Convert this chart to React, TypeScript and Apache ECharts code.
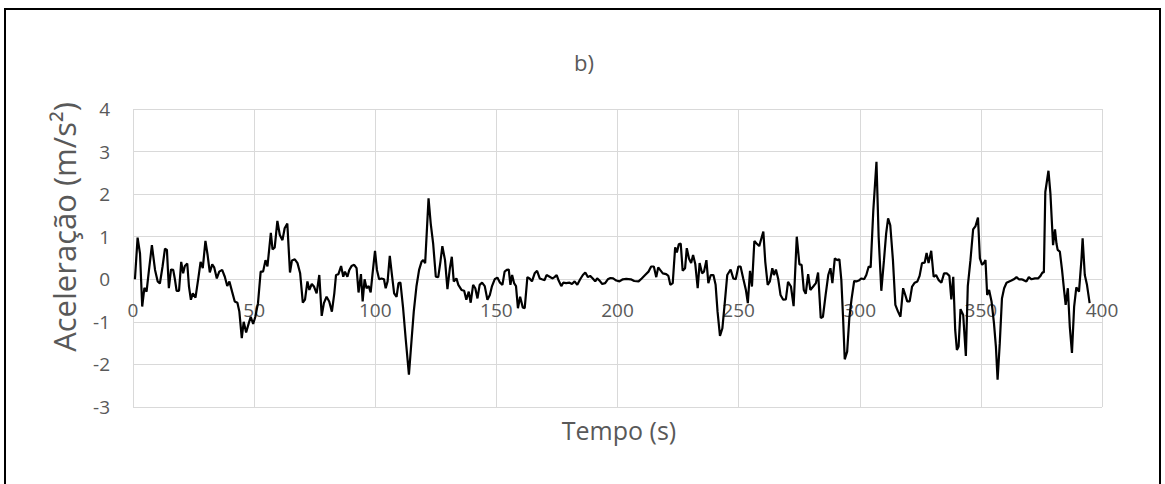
import React, { useEffect, useRef } from "react";
import * as echarts from "echarts";

const chartTitle = "b)";
const xTitle = "Tempo (s)";
const yTitle = "Aceleração (m/s²)";

const xMin = 0;
const xMax = 400;
const xStep = 50;
const yMin = -3;
const yMax = 4;
const yStep = 1;

// time (s)
const times: number[] = [
  0.8, 1.9, 2.9, 3.8, 4.7, 5.6, 6.6, 7.8, 9.1, 10.2,
  11.1, 12.2, 13.2, 14.0, 14.8, 15.7, 16.6, 17.3, 18.0, 19.0,
  19.9, 20.7, 21.4, 22.4, 23.1, 23.9, 24.7, 25.8, 26.9, 27.9,
  28.8, 29.9, 30.8, 31.7, 32.7, 33.5, 34.6, 35.6, 36.8, 37.9,
  38.9, 39.8, 40.9, 42.0, 43.1, 43.9, 44.9, 45.7, 46.7, 47.8,
  48.6, 49.6, 50.5, 51.6, 52.7, 53.7, 54.7, 55.5, 56.9, 57.6,
  58.5, 59.6, 60.6, 61.7, 62.6, 63.7, 64.8, 65.6, 66.8,
  67.9, 69.0, 70.1, 71.0, 72.0, 72.8, 73.8, 74.7, 75.8, 76.9,
  77.9, 78.8, 79.9, 81.0, 82.1, 83.1, 83.8, 84.8, 85.9, 86.8,
  87.5, 88.5, 89.3, 90.2, 91.3, 92.3, 93.1, 94.1, 94.8, 95.6,
  96.4, 97.3, 98.1, 98.9, 99.9, 100.7, 101.6, 102.6, 103.6, 104.3,
  105.1, 106.0, 106.9, 107.8, 108.8, 109.6, 110.4, 111.5, 112.6, 113.9,
  115.0, 115.9, 117.0, 118.1, 119.1, 119.8, 120.6, 122.0, 122.9, 123.9,
  125.0, 126.0, 126.9, 127.7, 128.8, 129.8, 130.8, 131.6, 132.4, 133.5,
  134.3, 135.6,
  136.7, 137.6, 138.6, 139.4, 140.4, 141.3, 142.2, 143.1, 144.1, 145.2,
  146.3, 147.3, 148.2, 149.3, 150.4, 151.5, 152.5, 153.4, 154.3, 155.1,
  155.8, 156.5, 157.3, 158.1, 158.9, 159.8, 160.9, 161.7, 162.8, 163.7,
  164.7, 165.8, 166.8, 167.9, 168.8, 169.9, 170.7, 172.0, 173.1, 174.0,
  174.9, 175.7, 176.8, 177.6, 178.8, 180.2, 181.2, 182.3, 183.4, 184.6,
  185.7, 186.7, 187.8, 188.7, 189.8, 190.8, 191.6, 192.6, 193.7, 194.9,
  196.0, 197.1, 198.2, 199.5, 200.8, 202.2, 203.6,
  205.5, 206.9, 208.7, 210.0, 211.4, 212.8, 213.9, 215.0, 216.0, 216.8,
  217.6, 218.7, 220.1, 221.0, 221.8, 222.8, 223.8, 224.5, 225.3, 226.1,
  226.9, 227.9, 228.6, 229.5, 230.4, 231.2, 232.1, 233.1, 233.9, 234.9,
  235.7, 236.7, 237.5, 238.5, 239.6, 240.5, 241.3, 242.3, 243.3, 244.4,
  245.3, 246.7, 247.8, 248.8, 249.9, 250.8, 251.9, 253.0, 253.8, 254.7,
  255.5, 256.5, 257.4, 258.5, 259.5, 260.2, 261.0, 262.0, 262.9, 263.9,
  264.6, 265.4, 266.3, 267.3, 268.4, 269.5, 270.4,
  271.6, 272.7, 274.0, 275.1, 276.0, 276.9, 277.7, 278.7, 279.6, 280.8,
  281.9, 282.8, 283.9, 284.8, 285.9, 287.0, 287.9, 288.7, 289.7, 290.7,
  291.6, 292.4, 293.1, 293.8, 294.8, 295.7, 296.6, 297.7, 298.6, 299.6,
  300.7, 301.8, 302.7, 303.7, 304.5, 305.6, 306.9, 307.8, 308.9, 310.0,
  310.9, 311.7, 312.6, 313.7, 314.7, 315.8, 316.8, 317.9, 318.8, 319.6,
  320.6, 321.6, 322.7, 323.8, 324.7, 325.7, 326.8, 327.6, 328.4, 329.5,
  330.5, 331.5, 332.6, 333.7, 334.8, 335.9, 337.0, 337.8, 338.6, 339.4,
  340.1,
  340.8, 341.6, 342.7, 343.8, 344.6, 345.7, 346.8, 347.8, 348.8, 349.6,
  350.5, 351.2, 351.9, 352.6, 353.4, 354.4, 355.4, 356.2, 356.9, 357.8,
  358.7, 359.6, 360.6, 361.7, 362.6, 363.6, 364.7, 365.7, 366.8, 367.7,
  368.8, 369.8, 370.9, 372.3, 373.6, 374.6, 375.4, 376.0, 376.6, 377.9,
  378.7, 379.8, 380.6, 381.2, 381.7, 382.6, 383.5, 384.3, 385.0, 385.9,
  386.7, 387.6, 388.5, 389.4, 390.5, 391.5, 392.0, 392.9, 393.8, 394.9,
];

// acceleration (m/s²)
const accel: number[] = [
  0, 0.98, 0.6, -0.64, -0.2, -0.29, 0.22, 0.8, 0.22, -0.05,
  -0.1, 0.3, 0.72, 0.69, -0.21, 0.23, 0.22, 0, -0.27, -0.27,
  0.41, 0.14, 0.31, 0.37, -0.17, -0.48, -0.33, -0.43, 0, 0.41,
  0.26, 0.9, 0.57, 0.16, 0.35, 0.28, 0.02, 0.18, 0.22, 0.06,
  -0.16, -0.05, -0.29, -0.52, -0.55, -0.76, -1.38, -1.0, -1.25, -1.03,
  -0.88, -1.05, -0.88, -0.56, 0.18, 0.18, 0.45, 0.3, 1.09, 0.7,
  0.75, 1.37, 1.04, 0.92, 1.2, 1.31, 0.16, 0.44, 0.47,
  0.38, 0.14, -0.55, -0.48, -0.05, -0.25, -0.11, -0.17, -0.33, 0.1,
  -0.86, -0.56, -0.41, -0.52, -0.76, -0.33, 0.1, 0.12, 0.31, 0.06,
  0.18, 0.06, 0.22, 0.31, 0.34, 0.26, -0.31, 0.12, -0.52, 0,
  -0.21, -0.16, -0.31, 0.14, 0.67, 0.22, 0, 0.02, 0, -0.21,
  -0.05, 0.55, 0.1, -0.33, -0.41, -0.09, -0.08, -0.68, -1.42, -2.24,
  -1.42, -0.76, -0.17, 0.22, 0.41, 0.45, 0.38, 1.9, 1.31, 0.84,
  0.06, 0.05, 0.41, 0.78, 0.45, -0.23, 0.26, 0.53, -0.05, 0.02,
  -0.13, -0.25,
  -0.27, -0.48, -0.29, -0.55, -0.13, -0.21, -0.45, -0.13, -0.08, -0.16,
  -0.48, -0.37, -0.16, 0, 0.04, -0.08, -0.13, 0.18, 0.22, 0.23,
  -0.13, 0.1, -0.09, -0.16, -0.68, -0.41, -0.66, -0.68, 0.05, 0.02,
  -0.05, 0.14, 0.2, 0.02, 0, -0.02, 0.1, 0.06, 0.02, 0.05,
  0.1, -0.03, -0.16, -0.08, -0.09, -0.08, -0.11, -0.05, -0.13, 0,
  0.1, 0.16, 0.05, 0.08, 0.02, -0.05, 0.02, -0.03, -0.11, -0.09,
  0, 0.03, 0.02, -0.03, -0.05, 0, 0.01,
  0, -0.04, -0.05, 0.02, 0.1, 0.18, 0.3, 0.3, 0.05, 0.28,
  0.22, 0.14, 0.12, 0.08, -0.13, -0.09, 0.75, 0.63, 0.82, 0.84,
  0.2, 0.26, 0.73, 0.49, 0.38, 0.57, 0.36, -0.21, 0.38, 0.14,
  0.18, 0.45, -0.09, 0.1, 0.1, -0.13, -0.76, -1.33, -1.15, -0.48,
  0.1, 0.23, 0.02, 0, 0.3, 0.3, 0.02, -0.25, -0.56, 0.2,
  -0.17, 0.9, 0.84, 0.78, 0.98, 1.12, 0.41, -0.13, -0.05, 0.26,
  0.1, 0.23, 0.02, -0.37, -0.48, -0.47, -0.06,
  -0.17, -0.63, 1.0, 0.35, 0.34, -0.25, -0.34, 0.12, -0.25, -0.17,
  -0.09, 0.16, -0.91, -0.88, -0.37, 0.1, 0.26, -0.09, 0.49, 0.45,
  0.47, -0.02, -0.88, -1.88, -1.7, -0.91, -0.47, -0.04, -0.05, -0.03,
  0.02, 0, 0.1, 0.3, 0.28, 1.62, 2.76, 1.0, -0.27, 0.45,
  1.08, 1.43, 1.27, 0.45, -0.6, -0.76, -0.88, -0.21, -0.37, -0.52,
  -0.52, -0.17, -0.08, -0.05, 0.08, 0.38, 0.39, 0.62, 0.38, 0.67,
  0.06, 0.1, -0.02, -0.08, 0.14, 0.14, 0.08, -0.47, 0.06, -1.19,
  -1.66,
  -1.58, -0.7, -0.84, -1.8, -0.16, 0.45, 1.17, 1.25, 1.45, 0.49,
  0.34, 0.38, 0.45, -0.37, -0.25, -0.52, -1.03, -1.58, -2.36, -1.5,
  -0.45, -0.21, -0.08, -0.05, -0.03, 0, 0.05, 0, 0, -0.02,
  -0.05, 0.05, 0, 0.02, 0.02, 0.08, 0.16, 0.16, 2.05, 2.55,
  2.02, 0.8, 1.17, 0.84, 0.69, 0.65, 0.22, -0.23, -0.6, -0.21,
  -1.11, -1.73, -0.64, -0.19, -0.29, 0.45, 0.96, 0.1, -0.13, -0.56,
];

const FONT = "'Open Sans', 'Liberation Sans', sans-serif";
const GRAY = "#595959";
const GRID = "#d9d9d9";

const GRID_LEFT = 133;
const GRID_TOP = 109;
const GRID_W = 969;
const GRID_H = 298;

export default function App() {
  const ref = useRef<HTMLDivElement>(null);

  useEffect(() => {
    if (!ref.current) return;
    const chart = echarts.init(ref.current, null, { renderer: "svg" });
    const n = Math.min(times.length, accel.length);
    const data: [number, number][] = [];
    for (let i = 0; i < n; i++) data.push([times[i], accel[i]]);

    // move the category axis up so that it crosses the value axis at 0
    const zeroOffset = -GRID_H * ((0 - yMin) / (yMax - yMin));

    chart.setOption({
      animation: false,
      backgroundColor: "#ffffff",
      grid: {
        left: GRID_LEFT,
        top: GRID_TOP,
        width: GRID_W,
        height: GRID_H,
        containLabel: false,
        outerBoundsMode: "none",
      },
      xAxis: {
        type: "value",
        position: "bottom",
        offset: zeroOffset,
        min: xMin,
        max: xMax,
        interval: xStep,
        axisLine: { show: false, onZero: false },
        axisTick: { show: false },
        axisLabel: {
          color: GRAY,
          fontFamily: FONT,
          fontSize: 19,
          margin: 21,
          showMinLabel: true,
          showMaxLabel: true,
        },
        splitLine: { show: true, lineStyle: { color: GRID, width: 1 } },
      },
      yAxis: {
        type: "value",
        min: yMin,
        max: yMax,
        interval: yStep,
        axisLine: { show: false, onZero: false },
        axisTick: { show: false },
        axisLabel: {
          color: GRAY,
          fontFamily: FONT,
          fontSize: 19,
          margin: 23,
        },
        splitLine: { show: true, lineStyle: { color: GRID, width: 1 } },
      },
      series: [
        {
          type: "line",
          data,
          showSymbol: false,
          symbol: "none",
          smooth: false,
          lineStyle: { color: "#000000", width: 2.2 },
          z: 5,
        },
      ],
      graphic: [
        {
          type: "rect",
          shape: { x: 5, y: 9, width: 1155, height: 480 },
          style: { fill: "none", stroke: "#000000", lineWidth: 2 },
          silent: true,
        },
        {
          type: "text",
          x: 584,
          y: 62,
          style: {
            text: chartTitle,
            fill: GRAY,
            font: `22px ${FONT}`,
            textAlign: "center",
            textVerticalAlign: "middle",
          },
        },
        {
          type: "text",
          x: 619,
          y: 430,
          style: {
            text: xTitle,
            fill: GRAY,
            font: `25px ${FONT}`,
            textAlign: "center",
            textVerticalAlign: "middle",
          },
        },
        {
          type: "text",
          x: 64,
          y: 227,
          rotation: Math.PI / 2,
          style: {
            text: yTitle,
            fill: GRAY,
            font: `31px ${FONT}`,
            textAlign: "center",
            textVerticalAlign: "middle",
          },
        },
      ],
    });

    return () => {
      chart.dispose();
    };
  }, []);

  return (
    <div
      ref={ref}
      style={{
        position: "fixed",
        left: 0,
        top: 0,
        width: 1165,
        height: 484,
        background: "#ffffff",
      }}
    />
  );
}
